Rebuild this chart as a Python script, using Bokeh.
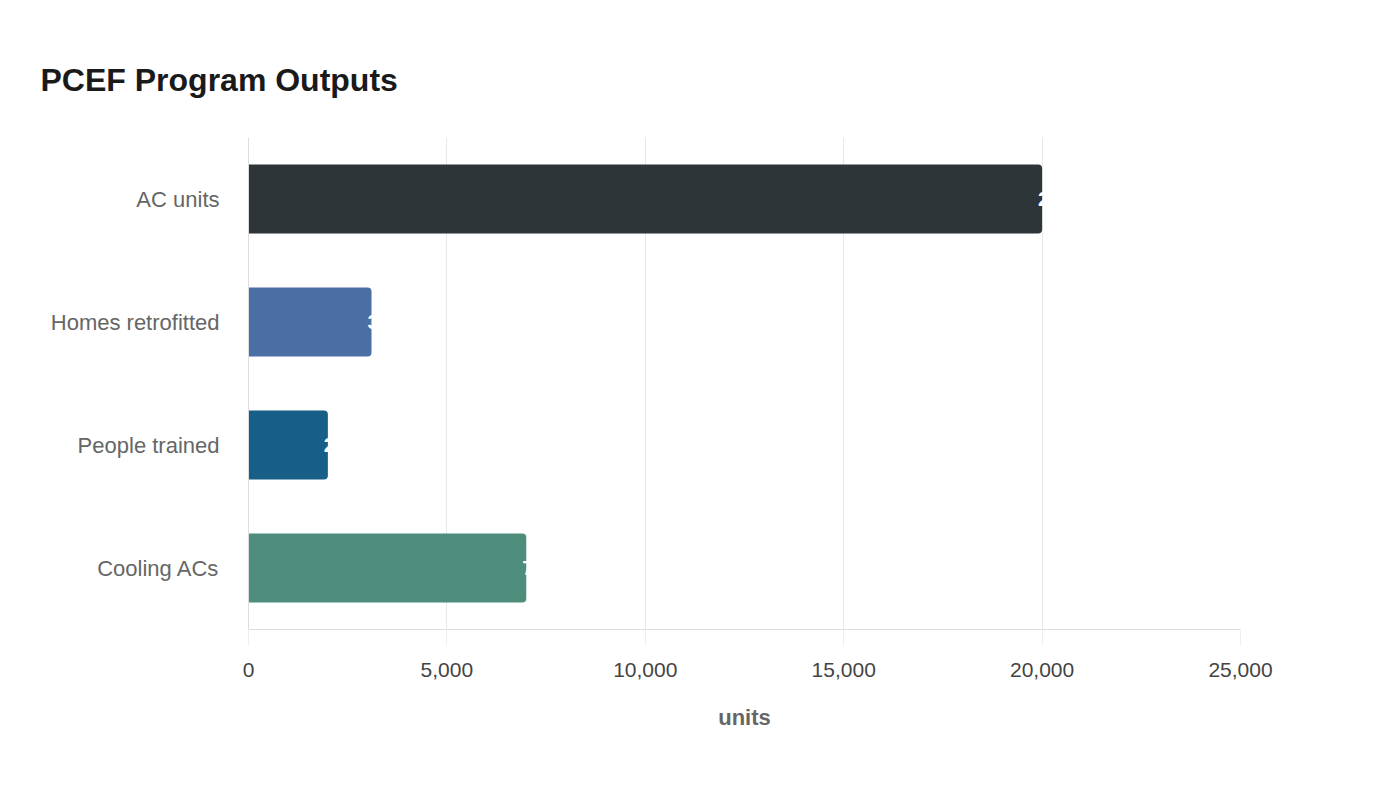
from bokeh.plotting import figure
from bokeh.models import ColumnDataSource, Range1d, FactorRange, NumeralTickFormatter, FixedTicker, Title
from bokeh.core.properties import value
from bokeh.embed import file_html
from bokeh.resources import INLINE

categories = ["AC units", "Homes retrofitted", "People trained", "Cooling ACs"]
values = [20000, 3100, 2000, 7000]
colors = ["#2e3538", "#4a6fa5", "#175f87", "#4e8c7b"]
labels = ["20,000", "3,100", "2,000", "7,000"]
x_ticks = [0, 5000, 10000, 15000, 20000, 25000]

FONT = "Liberation Sans"

src = ColumnDataSource(dict(cat=categories, val=values, color=colors, label=labels))

p = figure(width=1384, height=784, output_backend="svg", toolbar_location=None,
           y_range=FactorRange(*list(reversed(categories)), range_padding=0),
           x_range=Range1d(0, 25000),
           min_border_left=248, min_border_right=144, min_border_top=137, min_border_bottom=155)
p.outline_line_color = None
p.background_fill_color = "white"

title = Title(text="PCEF Program Outputs", text_font=FONT, text_font_size="32px",
              text_font_style="bold", text_color="#1a1a1a", align="left",
              offset=-208, standoff=80)
p.add_layout(title, "above")

p.hbar(y="cat", right="val", left=0, height=0.56, source=src, fill_color="color",
       line_color=None, border_radius=(0, 4, 4, 0))

p.text(x="val", y="cat", text="label", source=src, text_color="white",
       text_align="left", text_baseline="middle", x_offset=-4,
       text_font=value(FONT), text_font_size="21px", text_font_style="bold")

xa = p.xaxis[0]
xa.ticker = FixedTicker(ticks=x_ticks)
xa.formatter = NumeralTickFormatter(format="0,0")
xa.axis_line_color = "#dddddd"
xa.major_tick_line_color = "#eeeeee"
xa.major_tick_out = 16
xa.major_tick_in = 0
xa.minor_tick_line_color = None
xa.major_label_standoff = 17
xa.major_label_text_font = FONT
xa.major_label_text_font_size = "21px"
xa.major_label_text_color = "#444444"
xa.axis_label = "units"
xa.axis_label_text_font = FONT
xa.axis_label_text_font_size = "22px"
xa.axis_label_text_font_style = "bold"
xa.axis_label_text_color = "#666666"
xa.axis_label_standoff = 25

ya = p.yaxis[0]
ya.axis_line_color = "#dddddd"
ya.major_tick_line_color = None
ya.minor_tick_line_color = None
ya.major_label_standoff = 23
ya.major_label_text_font = FONT
ya.major_label_text_font_size = "22px"
ya.major_label_text_color = "#666666"

p.xgrid.grid_line_color = "#e8e8e8"
p.xgrid.ticker = FixedTicker(ticks=x_ticks)
p.ygrid.grid_line_color = None

open("out.html", "w").write(file_html(p, INLINE))
